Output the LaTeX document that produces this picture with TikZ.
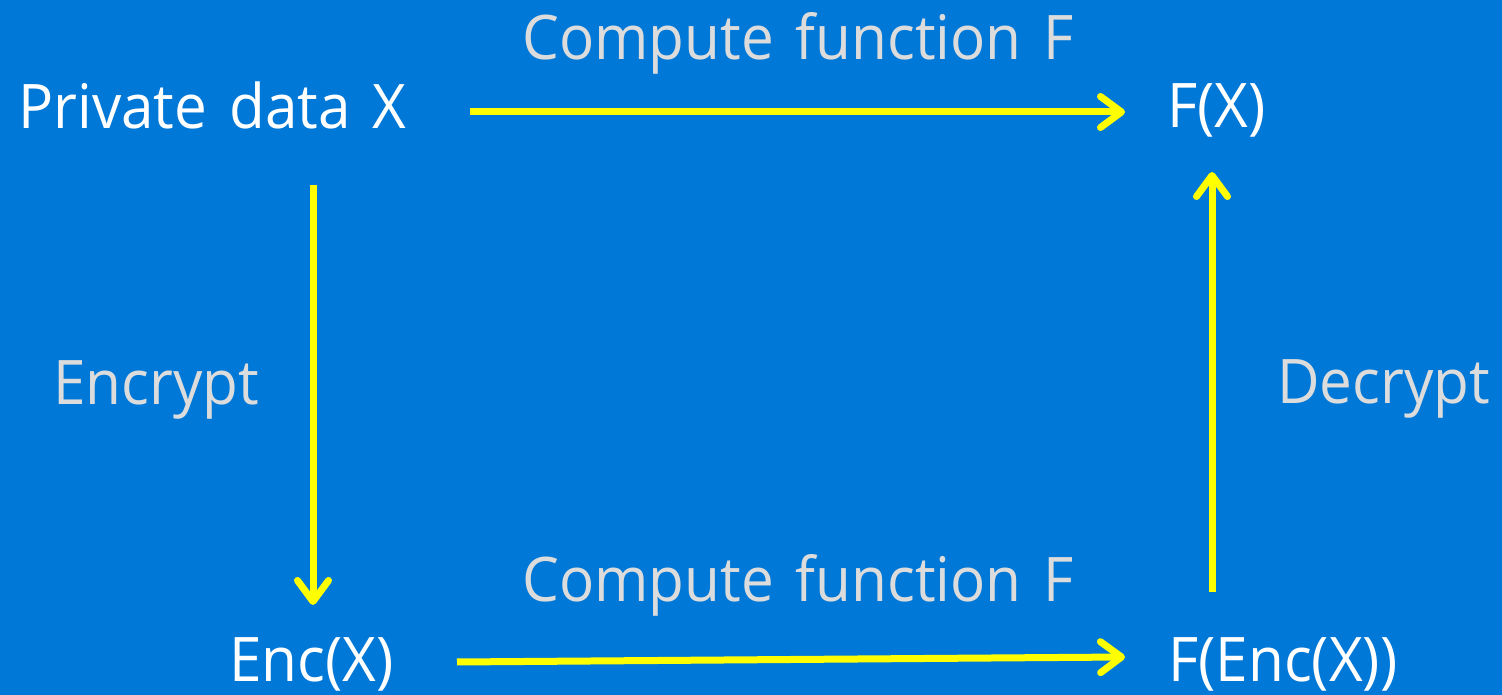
\documentclass[tikz,border=0pt]{standalone}
\usepackage{fontspec}
\setmainfont[FakeStretch=0.95,WordSpace=1.45]{Open Sans}
\usetikzlibrary{arrows.meta}
\definecolor{bg}{RGB}{0,120,215}
\definecolor{lbl}{RGB}{220,220,220}
\definecolor{arr}{RGB}{255,255,0}
\begin{document}
\begin{tikzpicture}[x=0.02cm,y=-0.02cm,
  main/.style={text=white,font=\fontsize{35}{42}\selectfont,inner sep=0pt,anchor=base west},
  lab/.style={text=lbl,font=\fontsize{35}{42}\selectfont,inner sep=0pt,anchor=base west},
  conn/.style={draw=arr,line width=0.14cm,-{Straight Barb[length=0.42cm,width=0.62cm,line cap=round,line join=round]}}]
\fill[bg] (0,0) rectangle (1502,695);
\useasboundingbox (0,0) rectangle (1502,695);
\node[main] (px) at (18,129) {Private data X};
\node[main] (fx) at (1167,128) {F(X)};
\node[main] (ex) at (229,682) {Enc(X)};
\node[main] (fex) at (1168,682) {F(Enc(X))};
\node[lab] (c1) at (522,60) {Compute function F};
\node[lab] (c2) at (522,602) {Compute function F};
\node[lab] (enc) at (53,405) {Encrypt};
\node[lab] (dec) at (1277,404) {Decrypt};
\coordinate (a1s) at (470,112);
\coordinate (a1e) at (1125,112);
\coordinate (a2s) at (313,185);
\coordinate (a2e) at (313,605);
\coordinate (a3s) at (457,662);
\coordinate (a3e) at (1125,657);
\coordinate (a4s) at (1212,592);
\coordinate (a4e) at (1212,172);
\draw[conn] (a1s) -- (a1e);
\draw[conn] (a2s) -- (a2e);
\draw[conn] (a3s) -- (a3e);
\draw[conn] (a4s) -- (a4e);
\end{tikzpicture}
\end{document}
